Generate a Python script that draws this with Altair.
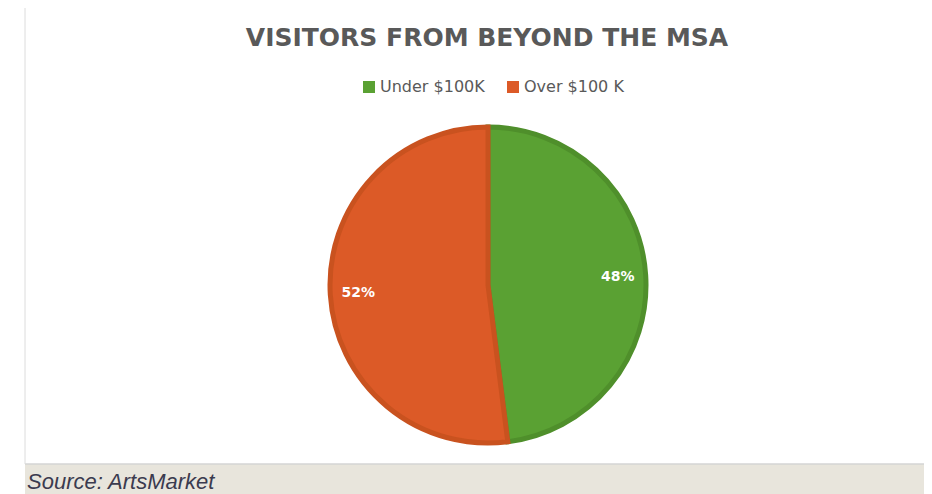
import altair as alt
import pandas as pd

# ---- data ----
title_text = "VISITORS FROM BEYOND THE MSA"
source_text = "Source: ArtsMarket"
categories = ["Under $100K", "Over $100 K"]
shares = [48, 52]
labels = ["48%", "52%"]
fill_colors = ["#5aa133", "#dc5a27"]
stroke_colors = ["#4f8f2b", "#c9521f"]

df = pd.DataFrame({
    "idx": list(range(len(categories))),
    "category": categories,
    "share": shares,
    "label": labels,
})

CX, CY = 480, 225

base = alt.Chart(df).encode(
    theta=alt.Theta("share:Q", stack=True),
    order=alt.Order("idx:Q"),
)

arcs = base.mark_arc(outerRadius=158, strokeWidth=5, strokeJoin="miter").encode(
    color=alt.Color(
        "category:N",
        scale=alt.Scale(domain=categories, range=fill_colors),
        sort=categories,
        legend=alt.Legend(
            title=None,
            orient="none",
            legendX=353,
            legendY=19,
            direction="horizontal",
            symbolType="square",
            symbolSize=144,
            symbolStrokeWidth=0,
            labelFont="DejaVu Sans",
            labelFontSize=16,
            labelColor="#595959",
            labelOffset=3,
            columnPadding=20,
            padding=0,
        ),
    ),
    stroke=alt.Stroke(
        "category:N",
        scale=alt.Scale(domain=categories, range=stroke_colors),
        legend=None,
    ),
    x=alt.value(CX),
    y=alt.value(CY),
)

text = base.mark_text(
    radius=130, font="DejaVu Sans", fontSize=14, fontWeight="bold", color="white"
).encode(
    text="label:N",
    x=alt.value(CX),
    y=alt.value(CY),
)

one = pd.DataFrame({"a": [0]})
band = alt.Chart(one).mark_rect(color="#e8e5dc").encode(
    x=alt.value(17), x2=alt.value(916), y=alt.value(404), y2=alt.value(434)
)
band_line = alt.Chart(one).mark_rule(color="#d4d4d4", strokeWidth=1.5).encode(
    x=alt.value(17), x2=alt.value(916), y=alt.value(404)
)
left_line = alt.Chart(one).mark_rule(color="#dcdcdc", strokeWidth=1).encode(
    x=alt.value(17), y=alt.value(-52), y2=alt.value(404)
)
source = alt.Chart(one).mark_text(
    align="left", baseline="alphabetic", font="Liberation Sans",
    fontSize=22, fontStyle="italic", color="#3b3b4f",
).encode(text=alt.value(source_text), x=alt.value(19), y=alt.value(429))

chart = alt.layer(band, band_line, left_line, arcs, text, source).properties(
    width=916,
    height=434,
    background="white",
    title=alt.TitleParams(
        text=title_text,
        font="DejaVu Sans",
        fontSize=25,
        fontWeight="bold",
        color="#595959",
        anchor="middle",
        dx=21,
        dy=76,
        baseline="alphabetic",
        offset=13,
    ),
    autosize=alt.AutoSizeParams(type="none"),
    padding={"left": 0, "top": 52, "right": 0, "bottom": 0},
).configure_view(stroke=None)

chart.save("out.html", embed_options={"renderer": "svg", "actions": False})
